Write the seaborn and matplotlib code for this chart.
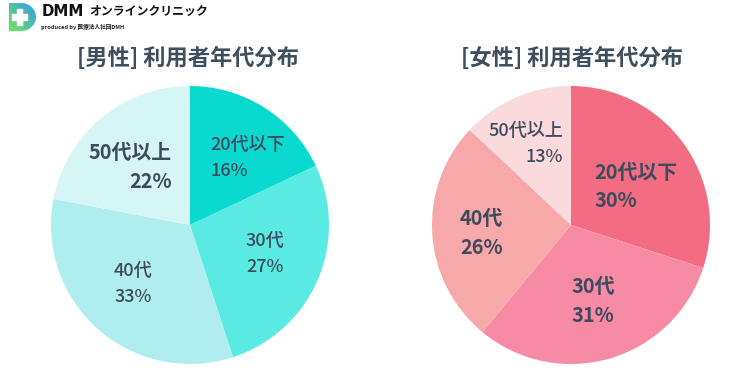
import numpy as np
import matplotlib
matplotlib.use("Agg")
import matplotlib.pyplot as plt
from matplotlib.path import Path
from matplotlib.patches import PathPatch, Rectangle
import seaborn as sns

# ---- data ----
male_title = "[男性] 利用者年代分布"
female_title = "[女性] 利用者年代分布"
age_groups = ["20代以下", "30代", "40代", "50代以上"]
# wedge sizes as drawn in the picture
male_share = [18, 27, 33, 22]
female_share = [30, 31, 26, 13]
# percentages as printed on the labels
male_pct = [16, 27, 33, 22]
female_pct = [30, 31, 26, 13]
male_colors = ["#0ad9d0", "#5aeae4", "#b0edee", "#d6f6f6"]
female_colors = ["#f26c82", "#f78ba6", "#f7a8a8", "#fadadd"]

sns.set_theme(style="white")
plt.rcParams['font.family'] = ['Noto Sans CJK JP', 'DejaVu Sans']

W, H = 729, 376
fig = plt.figure(figsize=(W / 100, H / 100), dpi=100)
fig.patch.set_facecolor("white")

TEXT = "#3d4b5c"

def pie_axes(cx, cy, r):
    return fig.add_axes([(cx - r) / W, (H - cy - r) / H, 2 * r / W, 2 * r / H])

# label placement (pie radius units), alignment, weight
male_lbl = [((0.144, 0.48), "left", "medium"),
            ((0.54, -0.21), "center", "medium"),
            ((-0.41, -0.425), "center", "medium"),
            ((-0.13, 0.415), "right", "bold")]
female_lbl = [((0.17, 0.278), "left", "bold"),
              ((0.158, -0.545), "center", "bold"),
              ((-0.644, -0.058), "center", "bold"),
              ((-0.058, 0.585), "right", "medium")]

def draw_pie(ax, shares, pcts, cols, lbls):
    ax.pie(shares, colors=cols, startangle=90, counterclock=False,
           wedgeprops=dict(linewidth=0), radius=1.0)
    ax.set_xlim(-1, 1)
    ax.set_ylim(-1, 1)
    ax.set_aspect("auto")
    ax.axis("off")
    for name, v, ((x, y), ha, wt) in zip(age_groups, pcts, lbls):
        fs = 14.3 if wt == "bold" else 13.0
        ax.text(x, y, f"{name}\n{v}%", ha=ha, va="center", multialignment=ha,
                fontsize=fs, color=TEXT, fontweight=wt,
                linespacing=1.45 if wt == "bold" else 1.55)

axL = pie_axes(190, 225, 139)
draw_pie(axL, male_share, male_pct, male_colors, male_lbl)
axR = pie_axes(571, 225, 139)
draw_pie(axR, female_share, female_pct, female_colors, female_lbl)

fig.text(188 / W, 1 - 58 / H, male_title, ha="center", va="center",
         fontsize=16, fontweight="bold", color="#3f4d5e")
fig.text(572 / W, 1 - 58 / H, female_title, ha="center", va="center",
         fontsize=16, fontweight="bold", color="#3f4d5e")

# ---- logo ----
axI = fig.add_axes([9 / W, 1 - 31 / H, 27 / W, 28 / H])
axI.set_xlim(0, 1)
axI.set_ylim(0, 1)
axI.axis("off")
grad = np.linspace(0, 1, 64)
gx, gy = np.meshgrid(grad, grad)
img = np.zeros((64, 64, 3))
c1 = np.array([0.45, 0.90, 0.35])
c2 = np.array([0.20, 0.60, 0.95])
t = (gx + (1 - gy)) / 2
for k in range(3):
    img[..., k] = c1[k] * (1 - t) + c2[k] * t
theta = np.linspace(np.pi / 2, -np.pi / 2, 40)
verts = [(0, 0), (0, 1), (0.45, 1)] + [(0.45 + 0.55 * np.cos(a), 0.5 + 0.5 * np.sin(a)) for a in theta] + [(0, 0)]
codes = [Path.MOVETO] + [Path.LINETO] * (len(verts) - 2) + [Path.CLOSEPOLY]
clip = PathPatch(Path(verts, codes), transform=axI.transData, facecolor="none", edgecolor="none")
axI.add_patch(clip)
im = axI.imshow(img, extent=[0, 1, 0, 1], origin="upper", aspect="auto")
im.set_clip_path(clip)
axI.add_patch(Rectangle((0.12, 0.40), 0.55, 0.2, color="white"))
axI.add_patch(Rectangle((0.295, 0.22), 0.2, 0.56, color="white"))

fig.text(42 / W, 1 - 11.5 / H, "DMM", ha="left", va="center", fontsize=10.8,
         fontweight="heavy", color="#111111", family=["DejaVu Sans"])
fig.text(89 / W, 1 - 11.5 / H, "オンラインクリニック", ha="left", va="center",
         fontsize=8.6, fontweight="bold", color="#111111")
fig.text(41 / W, 1 - 27 / H, "produced by 医療法人社団DMH", ha="left", va="center",
         fontsize=4.1, fontweight="bold", color="#222222")

fig.savefig("out.png", dpi=100, facecolor="white")
